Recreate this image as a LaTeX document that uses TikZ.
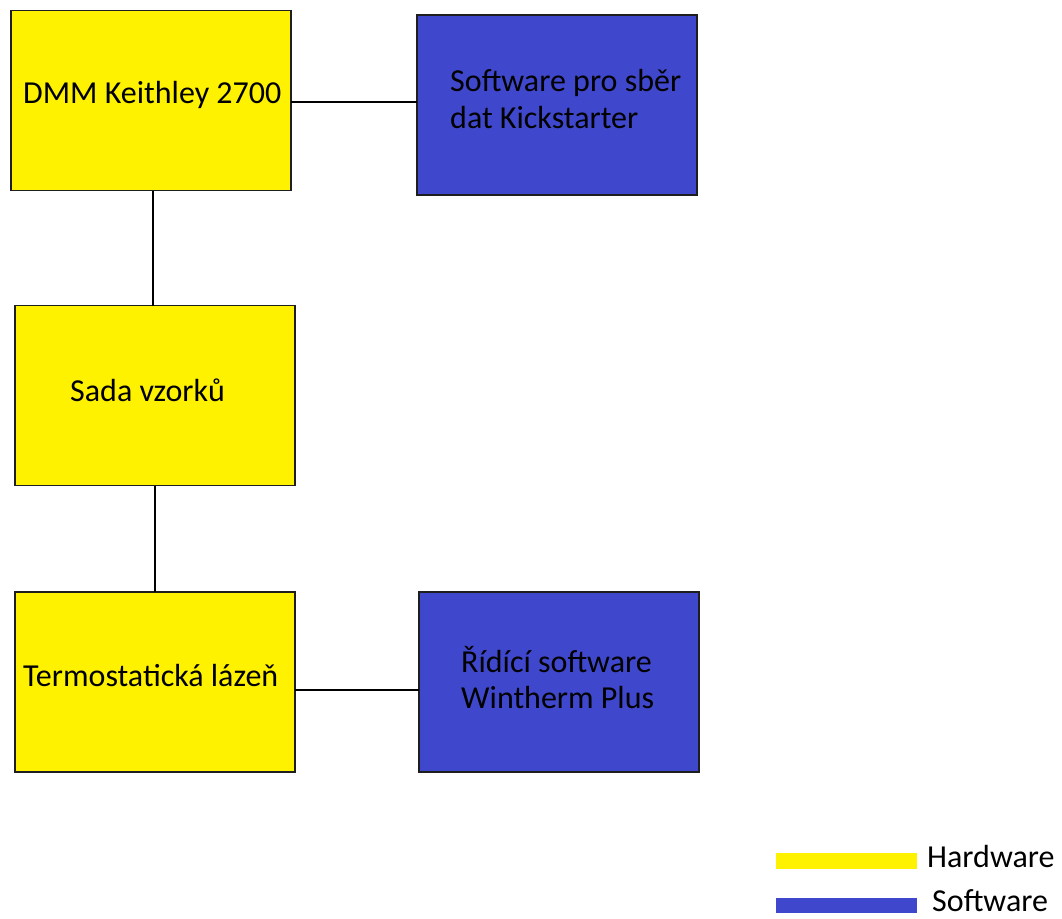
\documentclass[tikz,border=0pt]{standalone}
\usepackage{fontspec}
\setmainfont{Carlito}
\definecolor{hwyellow}{RGB}{255,242,0}
\definecolor{swblue}{RGB}{63,72,204}
\definecolor{edge}{RGB}{30,30,30}
\tikzset{
  box/.style={draw=edge, line width=1.8pt, inner sep=0pt, outer sep=0pt, minimum width=280pt, minimum height=180pt},
  hwbox/.style={box, fill=hwyellow},
  swbox/.style={box, fill=swblue},
  lbl/.style={anchor=base west, inner sep=0pt, text=black, font=\fontsize{32}{37}\selectfont},
  conn/.style={draw=black, line width=1.3pt},
  legbar/.style={inner sep=0pt, outer sep=0pt, minimum width=141pt, minimum height=16pt}
}
\begin{document}
\begin{tikzpicture}[x=1pt,y=-1pt]
\useasboundingbox (0,0) rectangle (1062,918);
% boxes
\node[hwbox] (dmm) at (151,100.5) {};
\node[swbox] (kick) at (557,105) {};
\node[hwbox] (sada) at (155,395.5) {};
\node[hwbox] (termo) at (155,682) {};
\node[swbox] (winth) at (559,682) {};
% connectors
\draw[conn] (dmm.east |- 0,102) -- (kick.west |- 0,102);
\draw[conn] (dmm.south -| 153,0) -- (sada.north -| 153,0);
\draw[conn] (sada.south) -- (termo.north);
\draw[conn] (termo.east |- 0,690) -- (winth.west |- 0,690);
% labels
\node[lbl] (tdmm) at (23,103) {DMM Keithley 2700};
\node[lbl] (tkick1) at (450,91) {Software pro sběr};
\node[lbl] (tkick2) at (450,128) {dat Kickstarter};
\node[lbl] (tsada) at (70,401) {Sada vzorků};
\node[lbl] (ttermo) at (23,686) {Termostatická lázeň};
\node[lbl] (twin1) at (461,672) {Řídící software};
\node[lbl] (twin2) at (461,708) {Wintherm Plus};
% legend
\node[legbar, fill=hwyellow] (lhw) at (846.5,861) {};
\node[legbar, fill=swblue, minimum height=15pt] (lsw) at (846.5,905.5) {};
\node[lbl] (thw) at (927,867) {Hardware};
\node[lbl] (tsw) at (932,911) {Software};
\end{tikzpicture}
\end{document}
